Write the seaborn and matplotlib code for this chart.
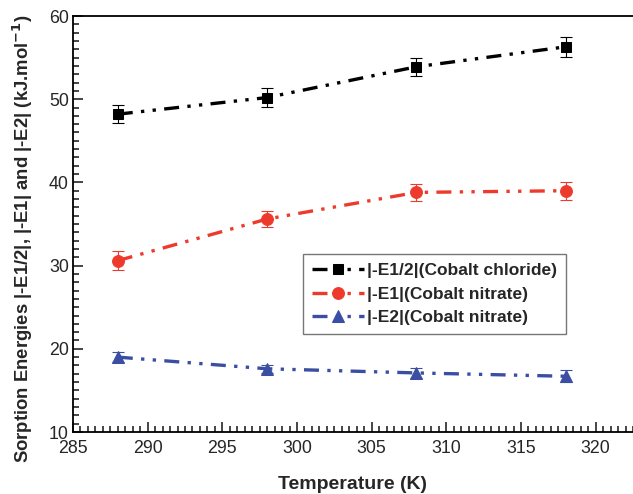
import numpy as np
import pandas as pd
import seaborn as sns
import matplotlib.pyplot as plt
from matplotlib.ticker import MultipleLocator

temperature = [288, 298, 308, 318]
e_half_chloride = [48.2, 50.2, 53.9, 56.3]
e_half_err = [1.1, 1.1, 1.1, 1.2]
e1_nitrate = [30.6, 35.6, 38.8, 39.0]
e1_err = [1.1, 1.0, 1.0, 1.1]
e2_nitrate = [19.0, 17.6, 17.1, 16.7]
e2_err = [0.6, 0.5, 0.6, 0.7]

labels = ["|-E1/2|(Cobalt chloride)", "|-E1|(Cobalt nitrate)", "|-E2|(Cobalt nitrate)"]
colors = ["black", "#ee3a2c", "#3a4ea3"]
markers = ["s", "o", "^"]
msizes = [7.5, 8.5, 8]

df = pd.DataFrame({
    "T": temperature * 3,
    "E": e_half_chloride + e1_nitrate + e2_nitrate,
    "err": e_half_err + e1_err + e2_err,
    "series": [labels[0]] * 4 + [labels[1]] * 4 + [labels[2]] * 4,
})

sns.set_style("ticks")
plt.rcParams['font.family'] = ['Liberation Sans', 'DejaVu Sans']

fig = plt.figure(figsize=(6.33, 4.94), dpi=100)
ax = fig.add_axes([0.1153, 0.1255, 0.8847, 0.8421])

dash = (0, (4.5, 2.5, 1, 2.5, 1, 2.5))
for lab, col, mk, ms in zip(labels, colors, markers, msizes):
    sub = df[df.series == lab]
    ax.errorbar(sub["T"], sub["E"], yerr=sub["err"], fmt="none", ecolor=col,
                elinewidth=0.8, capsize=4, capthick=0.8, zorder=2)
    sns.lineplot(x=sub["T"], y=sub["E"], ax=ax, color=col, marker=mk,
                 markersize=ms, markeredgecolor=col, linewidth=2.4,
                 linestyle=dash, label=lab, zorder=3)

ax.set_xlim(285, 322.5)
ax.set_ylim(10, 60)
ax.xaxis.set_major_locator(MultipleLocator(5))
ax.xaxis.set_minor_locator(MultipleLocator(0.5))
ax.yaxis.set_major_locator(MultipleLocator(10))
ax.yaxis.set_minor_locator(MultipleLocator(1))
ax.tick_params(which="both", direction="in", top=False, right=False,
               labelsize=12.8, width=1.2)
ax.tick_params(axis="x", pad=6)
ax.tick_params(axis="y", pad=3)
ax.tick_params(which="major", length=7)
ax.tick_params(which="minor", length=4)
ax.spines["right"].set_visible(False)
for s in ["left", "bottom", "top"]:
    ax.spines[s].set_linewidth(1.3)
    ax.spines[s].set_color("black")

ax.set_xlabel("Temperature (K)", fontsize=14, fontweight="bold")
ax.xaxis.set_label_coords(0.5, -0.105)
ax.set_ylabel("Sorption Energies |-E1/2|, |-E1| and |-E2| (kJ.mol$^{\\mathbf{-1}}$)",
              fontsize=13.3, fontweight="bold")
ax.yaxis.set_label_coords(-0.068, 0.464)

leg = ax.legend(loc="upper left", bbox_to_anchor=(0.411, 0.428), frameon=True,
                fancybox=False, prop={"weight": "bold", "size": 12.5},
                handlelength=3.0, handletextpad=0.2, borderpad=0.5,
                labelspacing=0.5, borderaxespad=0)
leg.get_frame().set_edgecolor("#555555")
leg.get_frame().set_linewidth(1.0)

fig.savefig("out.png", dpi=100)
